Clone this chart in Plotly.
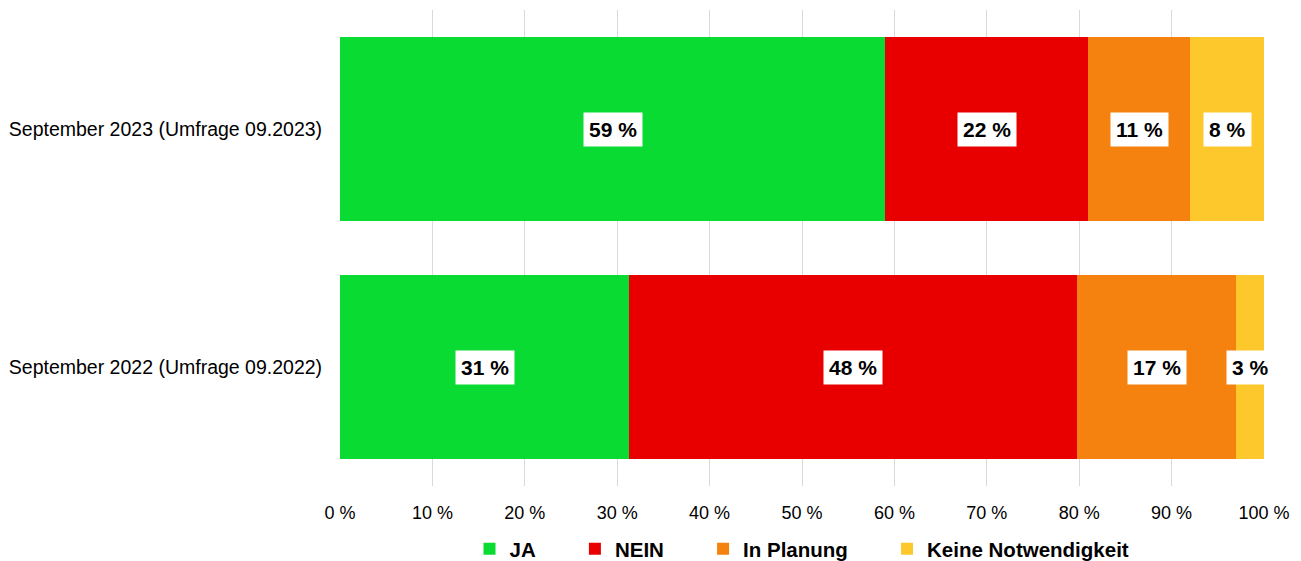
import plotly.graph_objects as go

categories = ["September 2022 (Umfrage 09.2022)", "September 2023 (Umfrage 09.2023)"]
series_names = ["JA", "NEIN", "In Planung", "Keine Notwendigkeit"]
ja = [31, 59]
nein = [48, 22]
planung = [17, 11]
keine = [3, 8]
colors = ["#0ADB32", "#E80000", "#F5820F", "#FDC82B"]
tick_vals = [0, 10, 20, 30, 40, 50, 60, 70, 80, 90, 100]
tick_text = [f"{v} %" for v in tick_vals]

series = [ja, nein, planung, keine]
FONT = "Liberation Sans, Arial, sans-serif"
PAD = "&nbsp;" * 6

fig = go.Figure()
for k, (name, vals, col) in enumerate(zip(series_names, series, colors)):
    label = f"<b>{name}</b>" + (PAD if k < len(series_names) - 1 else "")
    fig.add_trace(go.Bar(
        y=categories, x=vals, name=label, orientation="h",
        marker=dict(color=col, line=dict(width=0)),
        hoverinfo="x",
    ))

# labels with white boxes at the centre of each segment
for i, cat in enumerate(categories):
    total = sum(s[i] for s in series)
    cum = 0.0
    for s in series:
        v = s[i] / total * 100
        fig.add_annotation(
            x=cum + v / 2, y=cat, xref="x", yref="y",
            text=f"<b>{s[i]} %</b>", showarrow=False,
            font=dict(family=FONT, size=21, color="#000000"),
            bgcolor="#FFFFFF", borderpad=5,
        )
        cum += v

fig.update_layout(
    barmode="stack", barnorm="percent", bargap=0.23,
    width=1301, height=561,
    margin=dict(l=332, r=45, t=2, b=83),
    plot_bgcolor="#FFFFFF", paper_bgcolor="#FFFFFF",
    font=dict(family=FONT, size=18, color="#000000"),
    xaxis=dict(range=[0, 100], tickvals=tick_vals, ticktext=tick_text,
               showgrid=True, gridcolor="#D9D9D9", gridwidth=1,
               zeroline=False, showline=False, ticks="outside", ticklen=10,
               tickcolor="rgba(0,0,0,0)",
               tickfont=dict(size=18)),
    yaxis=dict(showgrid=False, zeroline=False, ticks="outside", ticklen=13,
               tickcolor="rgba(0,0,0,0)",
               tickfont=dict(size=19.5), automargin=False),
    legend=dict(orientation="h", x=0.5, xanchor="center",
                xref="paper", yref="container", y=20 / 561, yanchor="middle",
                font=dict(size=20.5, family=FONT),
                itemwidth=30, traceorder="normal"),
    showlegend=True,
)

fig.write_html("out.html")
